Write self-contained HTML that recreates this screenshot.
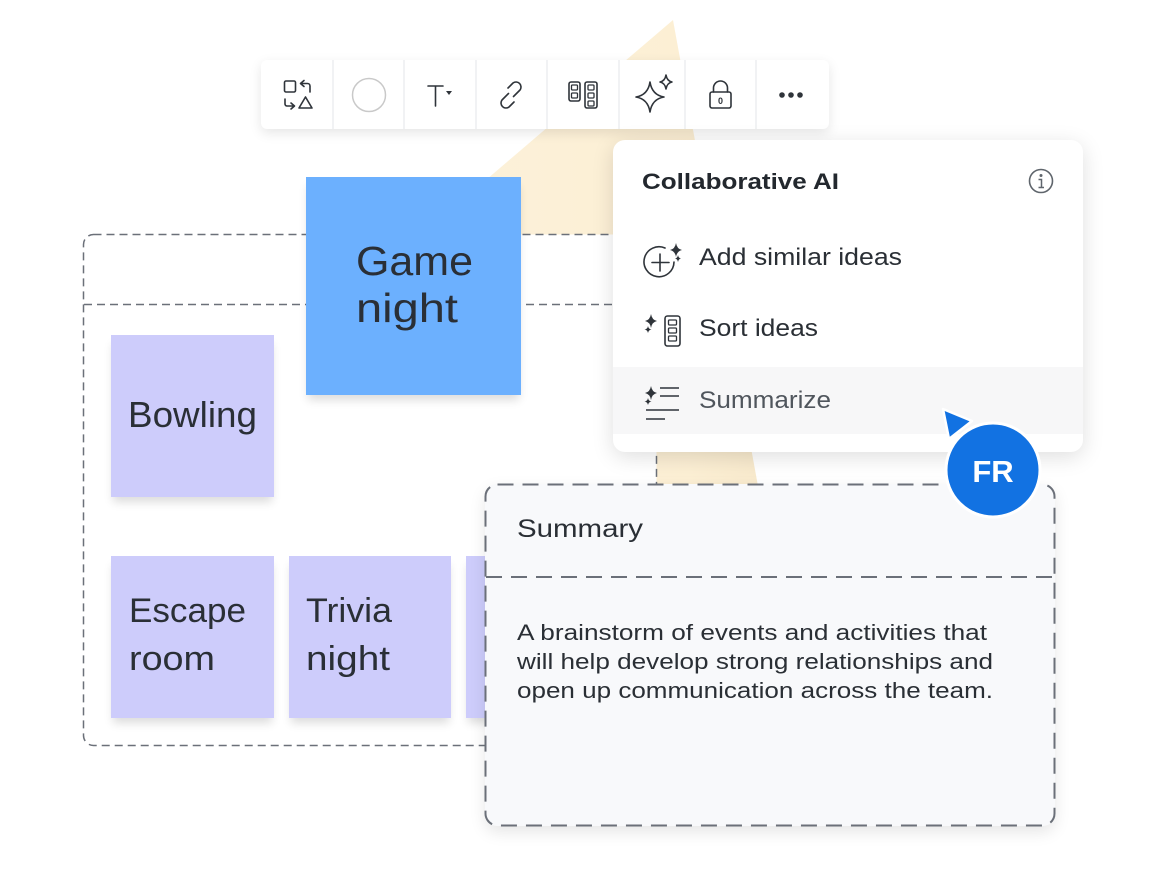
<!DOCTYPE html>
<html><head><meta charset="utf-8">
<style>
html,body{margin:0;padding:0;background:#fff;}
body{width:1160px;height:870px;position:relative;overflow:hidden;font-family:"Liberation Sans",sans-serif;}
.abs{position:absolute;}
.note{position:absolute;box-shadow:0 7px 9px -2px rgba(0,0,0,0.14);}
</style></head>
<body>
<!-- yellow background triangle -->
<svg class="abs" style="left:0;top:0" width="1160" height="870">
  <defs>
    <linearGradient id="yg" x1="0" y1="0" x2="1" y2="0">
      <stop offset="0" stop-color="#fdf3de"/>
      <stop offset="0.8" stop-color="#fcefd4"/>
      <stop offset="1" stop-color="#f6e7c9"/>
    </linearGradient>
  </defs>
  <polygon points="673,20 252,380 797,700" fill="url(#yg)"/>
</svg>

<!-- group box -->
<svg class="abs" style="left:0;top:0" width="1160" height="870">
  <rect x="83.5" y="234.5" width="573" height="511" rx="10" fill="#fff" stroke="#6b7079" stroke-width="1.5" stroke-dasharray="8 5"/>
  <line x1="84" y1="304.5" x2="656" y2="304.5" stroke="#6b7079" stroke-width="1.5" stroke-dasharray="8 5"/>
</svg>

<!-- notes -->
<div class="note" style="left:111px;top:335px;width:163px;height:162px;background:#cdccfb;"></div>
<div class="note" style="left:111px;top:556px;width:163px;height:162px;background:#cdccfb;"></div>
<div class="note" style="left:289px;top:556px;width:162px;height:162px;background:#cdccfb;"></div>
<div class="note" style="left:466px;top:556px;width:60px;height:162px;background:#cdccfb;"></div>
<div class="note" style="left:306px;top:177px;width:215px;height:218px;background:#6cb0fe;"></div>

<svg class="abs" style="left:0;top:0" width="1160" height="870">
  <g fill="#2a2f36" font-family="Liberation Sans, sans-serif">
    <text x="356" y="275" font-size="41" textLength="117" lengthAdjust="spacingAndGlyphs">Game</text>
    <text x="356" y="322" font-size="41" textLength="102" lengthAdjust="spacingAndGlyphs">night</text>
    <text x="128" y="427" font-size="36" textLength="129" lengthAdjust="spacingAndGlyphs">Bowling</text>
    <text x="129" y="622" font-size="34" textLength="117" lengthAdjust="spacingAndGlyphs">Escape</text>
    <text x="129" y="670" font-size="34" textLength="86" lengthAdjust="spacingAndGlyphs">room</text>
    <text x="306" y="622" font-size="34" textLength="86" lengthAdjust="spacingAndGlyphs">Trivia</text>
    <text x="306" y="670" font-size="34" textLength="84" lengthAdjust="spacingAndGlyphs">night</text>
  </g>
</svg>

<!-- toolbar -->
<div class="abs" style="left:261px;top:60px;width:568px;height:69px;background:#fff;border-radius:6px;box-shadow:0 4px 12px rgba(0,0,0,0.10);"></div>
<svg class="abs" style="left:0;top:0" width="1160" height="870">
  <g stroke="#eceef0" stroke-width="1.5">
    <line x1="333" y1="60" x2="333" y2="129"/>
    <line x1="404" y1="60" x2="404" y2="129"/>
    <line x1="476" y1="60" x2="476" y2="129"/>
    <line x1="547" y1="60" x2="547" y2="129"/>
    <line x1="619" y1="60" x2="619" y2="129"/>
    <line x1="685" y1="60" x2="685" y2="129"/>
    <line x1="756" y1="60" x2="756" y2="129"/>
  </g>
  <g fill="none" stroke="#2f343a" stroke-width="1.6" stroke-linecap="round" stroke-linejoin="round">
    <!-- shape swap -->
    <rect x="284.5" y="81" width="11" height="11" rx="1.5"/>
    <path d="M310 92 V86 a2.5 2.5 0 0 0 -2.5 -2.5 H301 M304 80.5 L300.5 83.5 L304 86.5"/>
    <path d="M285 99 V104 a2 2 0 0 0 2 2 H294 M291 103 L294.5 106 L291 109"/>
    <path d="M305.5 97 L312 108 H299 Z"/>
    <!-- T -->
    <path d="M428 86 H443 M435.5 86 V106"/>
    <!-- link -->
    <path d="M508.5 93.5 L502 100 a5 5 0 0 0 7 7 L514 102"/>
    <path d="M513.5 96.5 L520 90 a5 5 0 0 0 -7 -7 L508 88"/>
    <!-- grid -->
    <rect x="569" y="82" width="11" height="19" rx="2"/>
    <rect x="585" y="82" width="12" height="26" rx="2"/>
    <!-- sparkle -->
    <path d="M650 82 Q652 95 664 97 Q652 99 650 112 Q648 99 636 97 Q648 95 650 82 Z"/>
    <path d="M666 75 Q667 81 672 82 Q667 83 666 89 Q665 83 660 82 Q665 81 666 75 Z"/>
    <!-- lock -->
    <rect x="710" y="92" width="21" height="16" rx="2"/>
    <path d="M713.5 92 V88 a7 7 0 0 1 14 0 V92"/>
  </g>
  <g fill="#2f343a">
    <path d="M446 91 H452 L449 95 Z"/>
    <rect x="571.5" y="85" width="6" height="5" rx="1" fill="none" stroke="#2f343a" stroke-width="1.3"/>
    <rect x="571.5" y="93" width="6" height="5" rx="1" fill="none" stroke="#2f343a" stroke-width="1.3"/>
    <rect x="588" y="85" width="6" height="5" rx="1" fill="none" stroke="#2f343a" stroke-width="1.3"/>
    <rect x="588" y="93" width="6" height="5" rx="1" fill="none" stroke="#2f343a" stroke-width="1.3"/>
    <rect x="588" y="101" width="6" height="5" rx="1" fill="none" stroke="#2f343a" stroke-width="1.3"/>
    <text x="720.5" y="104" font-size="9" font-family="Liberation Sans, sans-serif" text-anchor="middle" font-weight="bold">0</text>
    <circle cx="782" cy="95" r="2.8"/>
    <circle cx="791" cy="95" r="2.8"/>
    <circle cx="800" cy="95" r="2.8"/>
  </g>
  <circle cx="369" cy="95" r="16.5" fill="none" stroke="#c9c9c9" stroke-width="1.5"/>
</svg>

<!-- AI menu -->
<div class="abs" style="left:613px;top:140px;width:470px;height:312px;background:#fff;border-radius:12px;box-shadow:0 5px 22px rgba(0,0,0,0.13);overflow:hidden;">
  <div class="abs" style="left:0;top:227px;width:470px;height:67px;background:#f7f7f8;"></div>
</div>
<svg class="abs" style="left:0;top:0" width="1160" height="870">
  <g font-family="Liberation Sans, sans-serif">
    <text x="642" y="189" font-size="22" font-weight="bold" fill="#23282e" textLength="197" lengthAdjust="spacingAndGlyphs">Collaborative AI</text>
    <text x="699" y="265" font-size="24" fill="#2a2f35" textLength="203" lengthAdjust="spacingAndGlyphs">Add similar ideas</text>
    <text x="699" y="336" font-size="24" fill="#2a2f35" textLength="119" lengthAdjust="spacingAndGlyphs">Sort ideas</text>
    <text x="699" y="408" font-size="24" fill="#50565d" textLength="132" lengthAdjust="spacingAndGlyphs">Summarize</text>
  </g>
  <!-- info -->
  <circle cx="1041" cy="181" r="11.5" fill="none" stroke="#5f656c" stroke-width="1.6"/>
  <circle cx="1041" cy="175.5" r="1.5" fill="#5f656c"/>
  <path d="M1038.5 179.5 H1041.5 V187.5 M1038.5 187.5 H1044" fill="none" stroke="#5f656c" stroke-width="1.5"/>
  <!-- add similar -->
  <g fill="none" stroke="#2f343a" stroke-width="1.6" stroke-linecap="round">
    <path d="M674 262 A15 15 0 1 1 665 248"/>
    <path d="M660 254 V271 M652 262.5 H669"/>
  </g>
  <g fill="#2f343a">
    <path d="M676 243 Q677 249 682 250 Q677 251 676 257 Q675 251 670 250 Q675 249 676 243 Z"/>
    <path d="M678 255 Q678.5 258 681 258.5 Q678.5 259 678 262 Q677.5 259 675 258.5 Q677.5 258 678 255 Z"/>
    <!-- sort sparkles -->
    <path d="M651 314 Q652 320 657 321 Q652 322 651 328 Q650 322 645 321 Q650 320 651 314 Z"/>
    <path d="M648 326 Q648.5 329 651.5 329.5 Q648.5 330 648 333 Q647.5 330 644.5 329.5 Q647.5 329 648 326 Z"/>
    <!-- summarize sparkles -->
    <path d="M651 386 Q652 392 657 393 Q652 394 651 400 Q650 394 645 393 Q650 392 651 386 Z"/>
    <path d="M648 398 Q648.5 401 651.5 401.5 Q648.5 402 648 405 Q647.5 402 644.5 401.5 Q647.5 401 648 398 Z"/>
  </g>
  <g fill="none" stroke="#2f343a" stroke-width="1.6">
    <rect x="665" y="316" width="15" height="30" rx="2.5"/>
    <rect x="668.5" y="320" width="8" height="5" rx="1" stroke-width="1.3"/>
    <rect x="668.5" y="328" width="8" height="5" rx="1" stroke-width="1.3"/>
    <rect x="668.5" y="336" width="8" height="5" rx="1" stroke-width="1.3"/>
  </g>
  <g stroke="#2f343a" stroke-width="1.5">
    <path d="M660 388 H679 M660 396 H679 M646 410 H679 M646 419 H665"/>
  </g>
</svg>

<!-- summary box -->
<div class="abs" style="left:485px;top:484px;width:570px;height:342px;background:#f8f9fb;border-radius:12px;box-shadow:0 6px 16px rgba(0,0,0,0.10);"></div>
<svg class="abs" style="left:0;top:0" width="1160" height="870">
  <rect x="485.5" y="484.5" width="569" height="341" rx="12" fill="none" stroke="#6b7079" stroke-width="2" stroke-dasharray="16 9"/>
  <line x1="486" y1="577" x2="1054" y2="577" stroke="#6b7079" stroke-width="2" stroke-dasharray="16 9"/>
  <g font-family="Liberation Sans, sans-serif" fill="#2a2f35">
    <text x="517" y="537" font-size="25" textLength="126" lengthAdjust="spacingAndGlyphs">Summary</text>
    <text x="517" y="640" font-size="22" textLength="470" lengthAdjust="spacingAndGlyphs">A brainstorm of events and activities that</text>
    <text x="517" y="669" font-size="22" textLength="476" lengthAdjust="spacingAndGlyphs">will help develop strong relationships and</text>
    <text x="517" y="698" font-size="22" textLength="476" lengthAdjust="spacingAndGlyphs">open up communication across the team.</text>
  </g>
</svg>

<!-- FR avatar + cursor -->
<svg class="abs" style="left:0;top:0" width="1160" height="870">
  <path d="M943 409 L972 421 L949 439 Z" fill="#1272e2" stroke="#fff" stroke-width="2.5" stroke-linejoin="round"/>
  <circle cx="993" cy="470" r="47" fill="#1272e2" stroke="#fff" stroke-width="3"/>
  <text x="993" y="482" font-size="31" font-weight="bold" fill="#fff" text-anchor="middle" font-family="Liberation Sans, sans-serif">FR</text>
</svg>
</body></html>
